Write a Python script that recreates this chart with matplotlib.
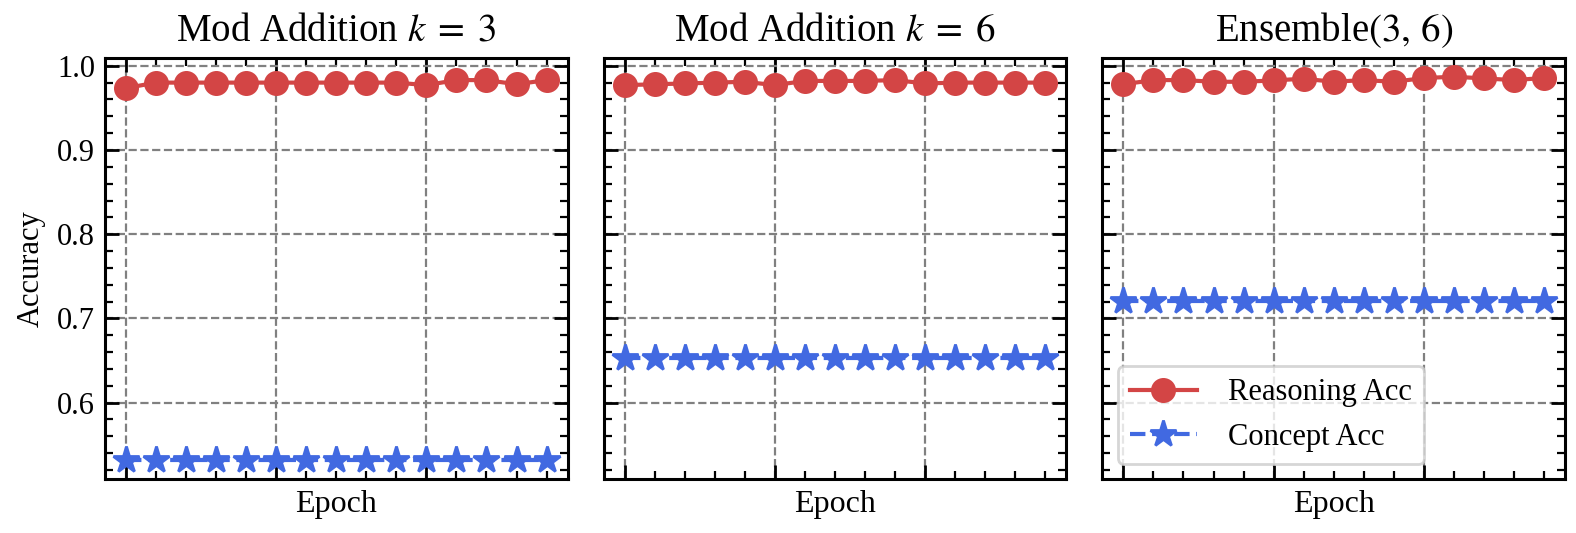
import matplotlib
matplotlib.use("Agg")
import matplotlib.pyplot as plt
from matplotlib.ticker import MultipleLocator

plt.rcParams['font.family'] = 'serif'
plt.rcParams['font.serif'] = ['Liberation Serif', 'DejaVu Serif']
plt.rcParams['mathtext.fontset'] = 'stix'

epochs = list(range(15))

titles = [r"Mod Addition $k\;=\;3$", r"Mod Addition $k\;=\;6$", r"Ensemble$(3,\,6)$"]

reasoning_k3 = [0.9735, 0.980, 0.980, 0.980, 0.980, 0.980, 0.980, 0.980, 0.980, 0.980,
                0.977, 0.983, 0.983, 0.978, 0.983]
reasoning_k6 = [0.977, 0.978, 0.979, 0.980, 0.981, 0.977, 0.982, 0.982, 0.982, 0.983,
                0.979, 0.980, 0.980, 0.980, 0.980]
reasoning_ens = [0.978, 0.983, 0.983, 0.981, 0.981, 0.9826, 0.9846, 0.981, 0.983, 0.981,
                 0.9854, 0.987, 0.985, 0.983, 0.9855]

concept_k3 = [0.532] * 15
concept_k6 = [0.653] * 15
concept_ens = [0.721] * 15

reasoning = [reasoning_k3, reasoning_k6, reasoning_ens]
concept = [concept_k3, concept_k6, concept_ens]

red = '#D34545'
blue = '#4169E1'

fig, axes = plt.subplots(1, 3, figsize=(7.88, 2.665), dpi=200, sharey=True)
fig.subplots_adjust(left=0.0666, right=0.993, bottom=0.1013, top=0.892, wspace=0.078)

for i, ax in enumerate(axes):
    ax.plot(epochs, reasoning[i], '-o', color=red, lw=1.5, markersize=8, label='Reasoning Acc')
    ax.plot(epochs, concept[i], '--*', color=blue, lw=1.5, markersize=10, label='Concept Acc')
    ax.set_title(titles[i], fontsize=14)
    ax.set_xlabel('Epoch', fontsize=11.5)
    ax.xaxis.set_major_locator(MultipleLocator(5))
    ax.xaxis.set_minor_locator(MultipleLocator(1))
    ax.yaxis.set_major_locator(MultipleLocator(0.1))
    ax.yaxis.set_minor_locator(MultipleLocator(0.02))
    ax.tick_params(which='both', direction='in', top=True, right=True, labelbottom=False,
                   labelsize=11)
    ax.tick_params(which='major', length=5, width=1)
    ax.tick_params(which='minor', length=3, width=0.8)
    ax.grid(True, which='major', linestyle='--', color='gray', lw=0.8)
    for s in ax.spines.values():
        s.set_linewidth(1.1)

axes[0].set_ylabel('Accuracy', fontsize=11)
axes[2].legend(loc='lower left', fontsize=11, frameon=True, fancybox=True,
               edgecolor='#cccccc', handlelength=2.2, handletextpad=1.0)

fig.savefig('out.png', dpi=200)
